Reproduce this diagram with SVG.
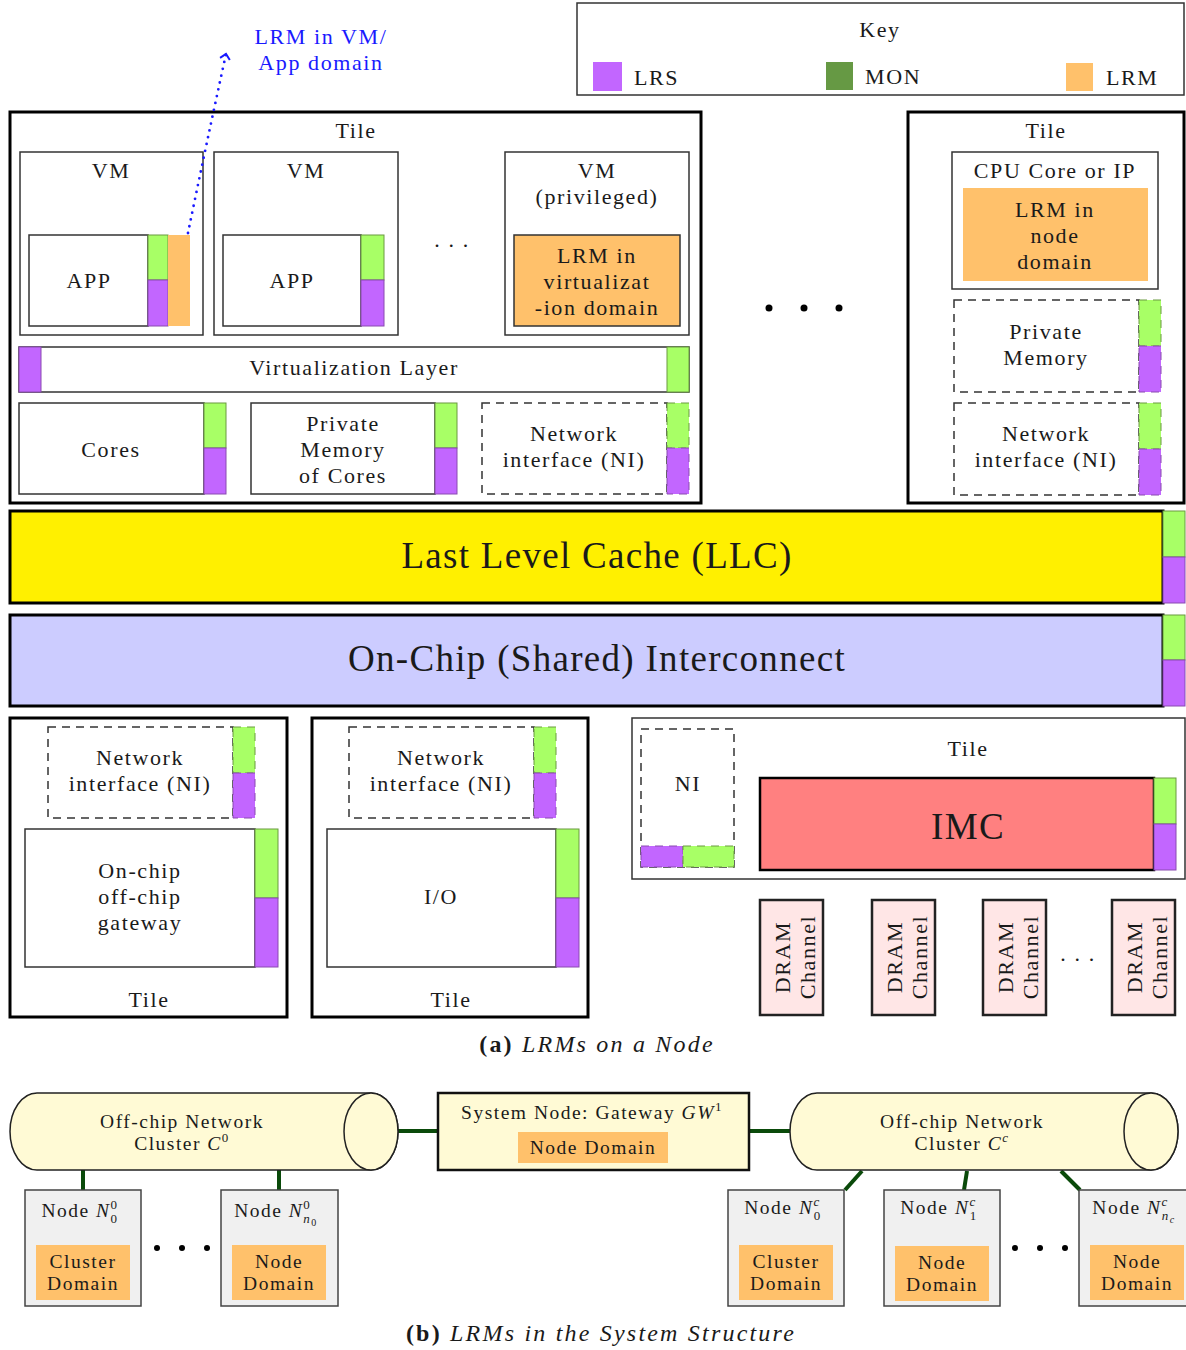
<svg xmlns="http://www.w3.org/2000/svg" width="1186" height="1350" viewBox="0 0 1186 1350">
<defs>
<style>
.t{font-family:"Liberation Serif","DejaVu Serif",serif;font-size:22px;fill:#1a1a1a;text-anchor:middle;letter-spacing:1.6px}
.big{font-size:37px;letter-spacing:1.3px}
.sm{font-size:19.5px;letter-spacing:1.5px}
.cap{font-size:24px;letter-spacing:2.2px}
.it{font-style:italic}
.box{fill:#fff;stroke:#333;stroke-width:1.5}
.dash{fill:#fff;stroke:#333;stroke-width:1.5;stroke-dasharray:8 6}
.tile{fill:#fff;stroke:#000;stroke-width:3}
.g{fill:#a8ff66;stroke:#6a9a40;stroke-width:1}
.p{fill:#c266ff;stroke:#8a4ab0;stroke-width:1}
.o{fill:#ffc16b}
.gd{fill:#a8ff66;stroke:#6a9a40;stroke-width:1;stroke-dasharray:8 6}
.pd{fill:#c266ff;stroke:#8a4ab0;stroke-width:1;stroke-dasharray:8 6}
.dram{fill:#ffe6e6;stroke:#222;stroke-width:2.5}
.node{fill:#f0f0f0;stroke:#444;stroke-width:1.5}
.cyl{fill:#fffad5;stroke:#222;stroke-width:1.5}
.conn{stroke:#0a4a0a;stroke-width:4;fill:none}
</style>
<marker id="ah" markerWidth="12" markerHeight="12" refX="6" refY="6" orient="auto" markerUnits="userSpaceOnUse">
<path d="M1,1 L6,6 L1,11" fill="none" stroke="#1a1aff" stroke-width="2"/>
</marker>
</defs>
<rect width="1186" height="1350" fill="#fff"/>

<g id="key">
<rect x="577" y="3" width="607" height="92" fill="#fff" stroke="#333" stroke-width="1.5"/>
<text class="t" x="880" y="37">Key</text>
<rect x="593" y="62" width="29" height="29" fill="#c266ff"/>
<text class="t" x="634" y="85" style="text-anchor:start">LRS</text>
<rect x="826" y="62" width="27" height="28" fill="#669944"/>
<text class="t" x="865" y="84" style="text-anchor:start">MON</text>
<rect x="1066" y="63" width="27" height="28" fill="#ffc16b"/>
<text class="t" x="1106" y="85" style="text-anchor:start">LRM</text>
</g>

<g id="tile1">
<rect class="tile" x="10" y="112" width="691" height="391"/>
<text class="t" x="356" y="138">Tile</text>
</g>
<g id="vm1">
<rect class="box" x="20" y="152" width="183" height="183"/>
<text class="t" x="111" y="178">VM</text>
<rect class="box" x="29" y="235" width="119" height="91"/>
<text class="t" x="89" y="288">APP</text>
<rect class="g" x="148" y="235" width="20" height="45"/>
<rect class="p" x="148" y="280" width="20" height="46"/>
<rect class="o" x="168" y="235" width="22" height="91"/>
</g>
<g id="vm2">
<rect class="box" x="214" y="152" width="184" height="183"/>
<text class="t" x="306" y="178">VM</text>
<rect class="box" x="223" y="235" width="138" height="91"/>
<text class="t" x="292" y="288">APP</text>
<rect class="g" x="361" y="235" width="23" height="45"/>
<rect class="p" x="361" y="280" width="23" height="46"/>
</g>
<text class="t" x="452" y="247">. . .</text>
<g id="vm3">
<rect class="box" x="505" y="152" width="184" height="183"/>
<text class="t" x="597" y="178">VM</text>
<text class="t" x="597" y="204">(privileged)</text>
<rect x="514" y="235" width="166" height="91" fill="#ffc16b" stroke="#333" stroke-width="1.5"/>
<text class="t" x="597" y="263">LRM in</text>
<text class="t" x="597" y="289">virtualizat</text>
<text class="t" x="597" y="315">-ion domain</text>
</g>
<g id="virt">
<rect class="box" x="19" y="347" width="670" height="45"/>
<rect class="p" x="19" y="347" width="22" height="45"/>
<rect class="g" x="667" y="347" width="22" height="45"/>
<text class="t" x="354" y="375">Virtualization Layer</text>
</g>
<g id="cores">
<rect class="box" x="19" y="403" width="185" height="91"/>
<text class="t" x="111" y="457">Cores</text>
<rect class="g" x="204" y="403" width="22" height="45"/>
<rect class="p" x="204" y="448" width="22" height="46"/>
</g>
<g id="pmem">
<rect class="box" x="251" y="403" width="184" height="91"/>
<text class="t" x="343" y="431">Private</text>
<text class="t" x="343" y="457">Memory</text>
<text class="t" x="343" y="483">of Cores</text>
<rect class="g" x="435" y="403" width="22" height="45"/>
<rect class="p" x="435" y="448" width="22" height="46"/>
</g>
<g id="ni1">
<rect class="dash" x="482" y="403" width="185" height="91"/>
<text class="t" x="574" y="441">Network</text>
<text class="t" x="574" y="467">interface (NI)</text>
<rect class="gd" x="667" y="403" width="22" height="45"/>
<rect class="pd" x="667" y="448" width="22" height="46"/>
</g>

<g id="bigdots" fill="#000">
<circle cx="769" cy="308" r="3.5"/><circle cx="804" cy="308" r="3.5"/><circle cx="839" cy="308" r="3.5"/>
</g>

<g id="tile2">
<rect class="tile" x="908" y="112" width="276" height="391"/>
<text class="t" x="1046" y="138">Tile</text>
</g>
<g id="cpu">
<rect class="box" x="952" y="152" width="206" height="137"/>
<text class="t" x="1055" y="178">CPU Core or IP</text>
<rect class="o" x="963" y="188" width="185" height="93"/>
<text class="t" x="1055" y="217">LRM in</text>
<text class="t" x="1055" y="243">node</text>
<text class="t" x="1055" y="269">domain</text>
</g>
<g id="pmem2">
<rect class="dash" x="954" y="300" width="185" height="92"/>
<text class="t" x="1046" y="339">Private</text>
<text class="t" x="1046" y="365">Memory</text>
<rect class="gd" x="1139" y="300" width="22" height="46"/>
<rect class="pd" x="1139" y="346" width="22" height="46"/>
</g>
<g id="ni2">
<rect class="dash" x="954" y="403" width="185" height="92"/>
<text class="t" x="1046" y="441">Network</text>
<text class="t" x="1046" y="467">interface (NI)</text>
<rect class="gd" x="1139" y="403" width="22" height="46"/>
<rect class="pd" x="1139" y="449" width="22" height="46"/>
</g>

<g id="llc">
<rect x="10" y="511" width="1153" height="92" fill="#fff000" stroke="#000" stroke-width="3"/>
<text class="t big" x="597" y="568">Last Level Cache (LLC)</text>
<rect class="g" x="1163" y="511" width="22" height="46"/>
<rect class="p" x="1163" y="557" width="22" height="46"/>
</g>
<g id="interconnect">
<rect x="10" y="615" width="1153" height="91" fill="#ccccff" stroke="#000" stroke-width="3"/>
<text class="t big" x="597" y="671">On-Chip (Shared) Interconnect</text>
<rect class="g" x="1163" y="615" width="22" height="45"/>
<rect class="p" x="1163" y="660" width="22" height="46"/>
</g>

<g id="tileA">
<rect class="tile" x="10" y="718" width="277" height="299"/>
<rect class="dash" x="48" y="727" width="185" height="91"/>
<text class="t" x="140" y="765">Network</text>
<text class="t" x="140" y="791">interface (NI)</text>
<rect class="gd" x="233" y="727" width="22" height="46"/>
<rect class="pd" x="233" y="773" width="22" height="45"/>
<rect class="box" x="25" y="829" width="230" height="138"/>
<text class="t" x="140" y="878">On-chip</text>
<text class="t" x="140" y="904">off-chip</text>
<text class="t" x="140" y="930">gateway</text>
<rect class="g" x="255" y="829" width="23" height="69"/>
<rect class="p" x="255" y="898" width="23" height="69"/>
<text class="t" x="149" y="1007">Tile</text>
</g>
<g id="tileB">
<rect class="tile" x="312" y="718" width="276" height="299"/>
<rect class="dash" x="349" y="727" width="185" height="91"/>
<text class="t" x="441" y="765">Network</text>
<text class="t" x="441" y="791">interface (NI)</text>
<rect class="gd" x="534" y="727" width="22" height="46"/>
<rect class="pd" x="534" y="773" width="22" height="45"/>
<rect class="box" x="327" y="829" width="229" height="138"/>
<text class="t" x="441" y="904">I/O</text>
<rect class="g" x="556" y="829" width="23" height="69"/>
<rect class="p" x="556" y="898" width="23" height="69"/>
<text class="t" x="451" y="1007">Tile</text>
</g>
<g id="tileC">
<rect x="632" y="718" width="553" height="161" fill="#fff" stroke="#333" stroke-width="1.5"/>
<rect class="dash" x="641" y="729" width="93" height="138"/>
<text class="t" x="688" y="791">NI</text>
<rect class="pd" x="641" y="846" width="42" height="21"/>
<rect class="gd" x="683" y="846" width="51" height="21"/>
<text class="t" x="968" y="756">Tile</text>
<rect x="760" y="778" width="394" height="92" fill="#ff8080" stroke="#000" stroke-width="2.5"/>
<text class="t big" x="968" y="839">IMC</text>
<rect class="g" x="1154" y="778" width="22" height="46"/>
<rect class="p" x="1154" y="824" width="22" height="46"/>
</g>
<g id="dram1"><rect class="dram" x="760" y="900" width="63" height="115"/>
<text class="t" transform="translate(790,957) rotate(-90)">DRAM</text><text class="t" transform="translate(815,957) rotate(-90)">Channel</text></g>
<g id="dram2"><rect class="dram" x="872" y="900" width="63" height="115"/>
<text class="t" transform="translate(902,957) rotate(-90)">DRAM</text><text class="t" transform="translate(927,957) rotate(-90)">Channel</text></g>
<g id="dram3"><rect class="dram" x="983" y="900" width="63" height="115"/>
<text class="t" transform="translate(1013,957) rotate(-90)">DRAM</text><text class="t" transform="translate(1038,957) rotate(-90)">Channel</text></g>
<text class="t" x="1078" y="961">. . .</text>
<g id="dram4"><rect class="dram" x="1112" y="900" width="63" height="115"/>
<text class="t" transform="translate(1142,957) rotate(-90)">DRAM</text><text class="t" transform="translate(1167,957) rotate(-90)">Channel</text></g>

<text class="t cap" x="597" y="1052"><tspan font-weight="bold">(a)</tspan> <tspan class="it">LRMs on a Node</tspan></text>

<g id="annot">
<text class="t" x="321" y="44" style="fill:#1a1aff">LRM in VM/</text>
<text class="t" x="321" y="70" style="fill:#1a1aff">App domain</text>
</g>

<g id="connectors">
<path d="M188,233 Q205,150 226,54" fill="none" stroke="#1a1aff" stroke-width="2.8" stroke-linecap="round" stroke-dasharray="0 7" marker-end="url(#ah)"/>
<line class="conn" x1="398" y1="1131" x2="438" y2="1131"/>
<line class="conn" x1="749" y1="1131" x2="790" y2="1131"/>
<line class="conn" x1="83" y1="1170" x2="83" y2="1190"/>
<line class="conn" x1="279" y1="1170" x2="279" y2="1190"/>
<line class="conn" x1="862" y1="1171" x2="845" y2="1190"/>
<line class="conn" x1="967" y1="1171" x2="964" y2="1190"/>
<line class="conn" x1="1061" y1="1171" x2="1080" y2="1190"/>
</g>

<g id="cluster0">
<path class="cyl" d="M37,1093 H371 A27,38.5 0 0 1 371,1170 H37 A27,38.5 0 0 1 37,1093 Z"/>
<ellipse cx="371" cy="1131.5" rx="27" ry="38.5" fill="#fffad5" stroke="#222" stroke-width="1.5"/>
<text class="t sm" x="182" y="1128">Off-chip Network</text>
<text class="t sm" x="182" y="1150">Cluster <tspan class="it">C</tspan><tspan font-size="13" dy="-8">0</tspan></text>
</g>
<g id="gateway">
<rect x="438" y="1093" width="311" height="77" fill="#fffad5" stroke="#111" stroke-width="2.5"/>
<text class="t sm" x="592" y="1119">System Node: Gateway <tspan class="it">GW</tspan><tspan font-size="13" dy="-8">1</tspan></text>
<rect class="o" x="518" y="1132" width="150" height="31"/>
<text class="t sm" x="593" y="1154">Node Domain</text>
</g>
<g id="clusterc">
<path class="cyl" d="M817,1093 H1151 A27,38.5 0 0 1 1151,1170 H817 A27,38.5 0 0 1 817,1093 Z"/>
<ellipse cx="1151" cy="1131.5" rx="27" ry="38.5" fill="#fffad5" stroke="#222" stroke-width="1.5"/>
<text class="t sm" x="962" y="1128">Off-chip Network</text>
<text class="t sm" x="962" y="1150">Cluster <tspan class="it">C</tspan><tspan font-size="13" dy="-8" class="it">c</tspan></text>
</g>
<g id="n00">
<rect class="node" x="25" y="1190" width="116" height="116"/>
<text class="t sm" x="80" y="1217">Node <tspan class="it">N</tspan><tspan font-size="13" dy="-8">0</tspan><tspan font-size="13" dx="-8" dy="14">0</tspan></text>
<rect class="o" x="36" y="1245" width="94" height="55"/>
<text class="t sm" x="83" y="1268">Cluster</text>
<text class="t sm" x="83" y="1290">Domain</text>
</g>
<g fill="#000"><circle cx="157" cy="1248" r="3"/><circle cx="182" cy="1248" r="3"/><circle cx="207" cy="1248" r="3"/></g>
<g id="n0n0">
<rect class="node" x="221" y="1190" width="117" height="116"/>
<text class="t sm" x="276" y="1217">Node <tspan class="it">N</tspan><tspan font-size="13" dy="-8">0</tspan><tspan font-size="13" dx="-8" dy="14" class="it">n</tspan><tspan font-size="10" dy="3">0</tspan></text>
<rect class="o" x="232" y="1245" width="94" height="55"/>
<text class="t sm" x="279" y="1268">Node</text>
<text class="t sm" x="279" y="1290">Domain</text>
</g>
<g id="nc0">
<rect class="node" x="728" y="1190" width="116" height="116"/>
<text class="t sm" x="783" y="1214">Node <tspan class="it">N</tspan><tspan font-size="13" dy="-8" class="it">c</tspan><tspan font-size="13" dx="-7" dy="14">0</tspan></text>
<rect class="o" x="739" y="1245" width="94" height="55"/>
<text class="t sm" x="786" y="1268">Cluster</text>
<text class="t sm" x="786" y="1290">Domain</text>
</g>
<g id="nc1">
<rect class="node" x="884" y="1190" width="116" height="116"/>
<text class="t sm" x="939" y="1214">Node <tspan class="it">N</tspan><tspan font-size="13" dy="-8" class="it">c</tspan><tspan font-size="13" dx="-7" dy="14">1</tspan></text>
<rect class="o" x="895" y="1246" width="94" height="55"/>
<text class="t sm" x="942" y="1269">Node</text>
<text class="t sm" x="942" y="1291">Domain</text>
</g>
<g fill="#000"><circle cx="1015" cy="1248" r="3"/><circle cx="1040" cy="1248" r="3"/><circle cx="1065" cy="1248" r="3"/></g>
<g id="ncn">
<rect class="node" x="1079" y="1190" width="116" height="116"/>
<text class="t sm" x="1134" y="1214">Node <tspan class="it">N</tspan><tspan font-size="13" dy="-8" class="it">c</tspan><tspan font-size="13" dx="-7" dy="14" class="it">n</tspan><tspan font-size="10" dy="3" class="it">c</tspan></text>
<rect class="o" x="1090" y="1245" width="94" height="55"/>
<text class="t sm" x="1137" y="1268">Node</text>
<text class="t sm" x="1137" y="1290">Domain</text>
</g>

<text class="t cap" x="601" y="1341"><tspan font-weight="bold">(b)</tspan> <tspan class="it">LRMs in the System Structure</tspan></text>
</svg>
